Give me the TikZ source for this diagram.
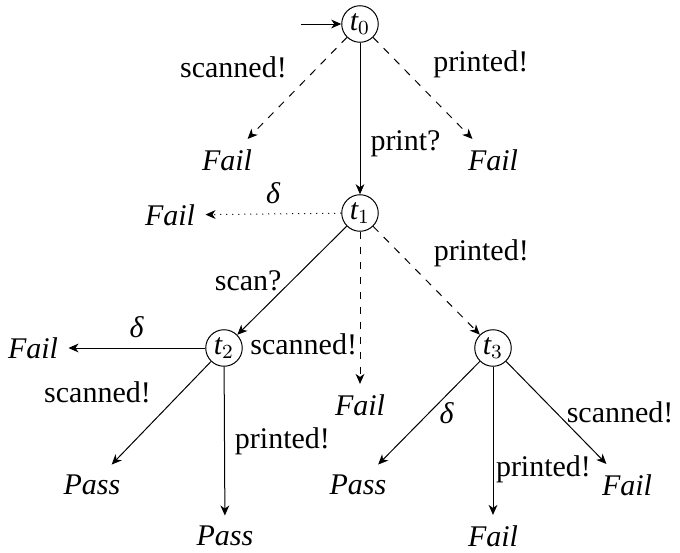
\documentclass[tikz,border=0pt,12pt]{standalone}
\usepackage{amsmath}
\usepackage{fontspec}
\setmainfont{Liberation Serif}
\usetikzlibrary{automata, arrows.meta, positioning}

\begin{document}
\begin{tikzpicture}[auto, x=0.4pt, y=-0.4pt, >={Stealth[length=4pt, width=3.5pt, inset=1.2pt]},
        every state/.style={minimum size=0pt, inner sep=1pt},
        verdict/.style={font=\itshape}]
        \useasboundingbox (0,0) rectangle (680,553);

        \node (t0) [state, initial, initial text=, initial distance=16pt] at (360,24) {$\textit{t}_0$};
        \node (t1) [state] at (360,213) {$\textit{t}_1$};
        \node (t2) [state] at (224,348) {$\textit{t}_2$};
        \node (t3) [state] at (493,348) {$\textit{t}_3$};

        \node (f0l) [verdict] at (227,160) {Fail};
        \node (f0r) [verdict] at (493,160) {Fail};
        \node (f1l) [verdict] at (170,215) {Fail};
        \node (f1d) [verdict] at (360,405) {Fail};
        \node (f2l) [verdict] at (33,348) {Fail};
        \node (p2l) [verdict] at (92,485) {Pass};
        \node (p2d) [verdict] at (225,536) {Pass};
        \node (p3l) [verdict] at (358,485) {Pass};
        \node (f3d) [verdict] at (493,536) {Fail};
        \node (f3r) [verdict] at (627,485) {Fail};

        \path[->]
        (t0) edge [dashed] node [swap] {scanned!} (f0l)
        (t0) edge [dashed] node {printed!} (f0r)
        (t0) edge node [pos=0.67] {print?} (t1)
        (t1) edge [dotted] node [swap] {\textit{δ}} (f1l)
        (t1) edge node [left] {scan?} (t2)
        (t1) edge [dashed] node [left, pos=0.74, xshift=3pt] {scanned!} (f1d)
        (t1) edge [dashed] node [pos=0.47] {printed!} (t3)
        (t2) edge node [swap] {\textit{δ}} (f2l)
        (t2) edge node [swap] {scanned!} (p2l)
        (t2) edge node {printed!} (p2d)
        (t3) edge node [right] {\textit{δ}} (p3l)
        (t3) edge node [right, pos=0.69, xshift=-3pt] {printed!} (f3d)
        (t3) edge node [right] {scanned!} (f3r);

\end{tikzpicture}
\end{document}
